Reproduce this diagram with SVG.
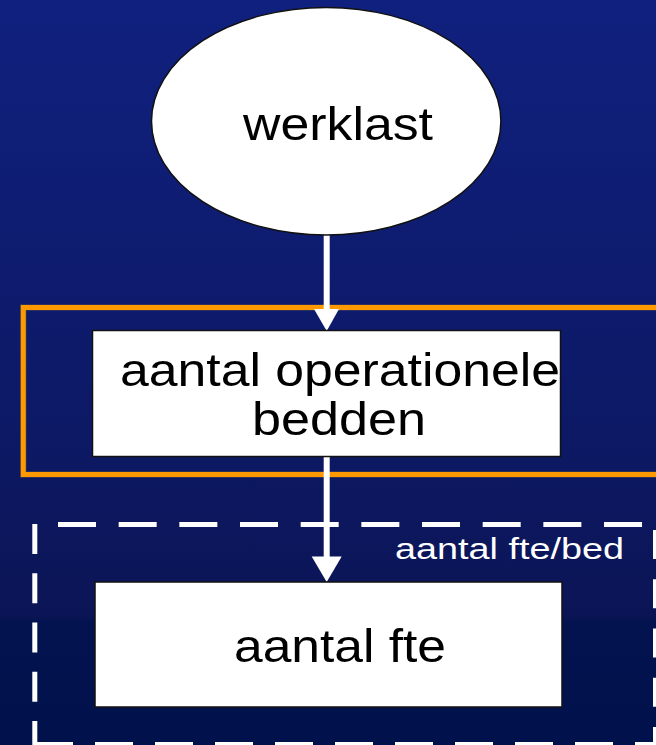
<svg xmlns="http://www.w3.org/2000/svg" width="656" height="745" viewBox="0 0 656 745">
  <defs>
    <linearGradient id="bg" x1="0" y1="0" x2="0" y2="1">
      <stop offset="0" stop-color="#10207e"/>
      <stop offset="0.5" stop-color="#0d1a69"/>
      <stop offset="0.825" stop-color="#0b1556"/>
      <stop offset="0.835" stop-color="#03134f"/>
      <stop offset="1" stop-color="#01114c"/>
    </linearGradient>
  </defs>
  <style>
    .node { fill: #ffffff; stroke: #111111; stroke-width: 1.5; }
    .lbl { font-family: "Liberation Sans", Arial, sans-serif; fill: #000000; font-size: 47px; }
    .wlbl { font-family: "Liberation Sans", Arial, sans-serif; fill: #ffffff; font-size: 29px; }
    .wire { stroke: #ffffff; stroke-width: 6; fill: none; }
    .head { fill: #ffffff; }
    .dash { stroke: #ffffff; stroke-width: 5; fill: none; }
  </style>
  <rect x="0" y="0" width="656" height="745" fill="url(#bg)"/>

  <g id="group-orange">
    <rect x="23.3" y="307.5" width="660" height="167" fill="none" stroke="#3a3a55" stroke-width="6.5"/>
    <rect x="23.3" y="307.5" width="660" height="167" fill="none" stroke="#ff9900" stroke-width="5"/>
  </g>

  <g id="group-dashed">
    <line class="dash" x1="58" y1="524.5" x2="680" y2="524.5" stroke-dasharray="38 22.67"/>
    <line class="dash" x1="34.8" y1="524" x2="34.8" y2="746" stroke-dasharray="30 19.25"/>
    <line class="dash" x1="655.5" y1="530" x2="655.5" y2="746" stroke-dasharray="29 20.25"/>
    <line class="dash" x1="35" y1="744.5" x2="680" y2="744.5" stroke-dasharray="38 22"/>
    <text class="wlbl" x="395" y="558.5" textLength="229" lengthAdjust="spacingAndGlyphs">aantal fte/bed</text>
  </g>

  <g id="connectors">
    <line class="wire" x1="326.7" y1="235" x2="326.7" y2="311"/>
    <polygon class="head" points="314,309 339,309 326.7,331"/>
    <line class="wire" x1="326.7" y1="456" x2="326.7" y2="558"/>
    <polygon class="head" points="311.7,556.5 341.7,556.5 326.7,582"/>
  </g>

  <g id="werklast">
    <ellipse class="node" cx="326.2" cy="121.2" rx="174.7" ry="113.8"/>
    <text class="lbl" x="243" y="140" textLength="190" lengthAdjust="spacingAndGlyphs">werklast</text>
  </g>

  <g id="operationele-bedden">
    <rect class="node" x="92.5" y="330.5" width="468" height="126"/>
    <text class="lbl" x="120" y="386" textLength="440" lengthAdjust="spacingAndGlyphs">aantal operationele</text>
    <text class="lbl" x="252" y="435" textLength="174" lengthAdjust="spacingAndGlyphs">bedden</text>
  </g>

  <g id="aantal-fte">
    <rect class="node" x="95" y="582" width="467" height="125"/>
    <text class="lbl" x="234" y="662" textLength="212" lengthAdjust="spacingAndGlyphs">aantal fte</text>
  </g>
</svg>
